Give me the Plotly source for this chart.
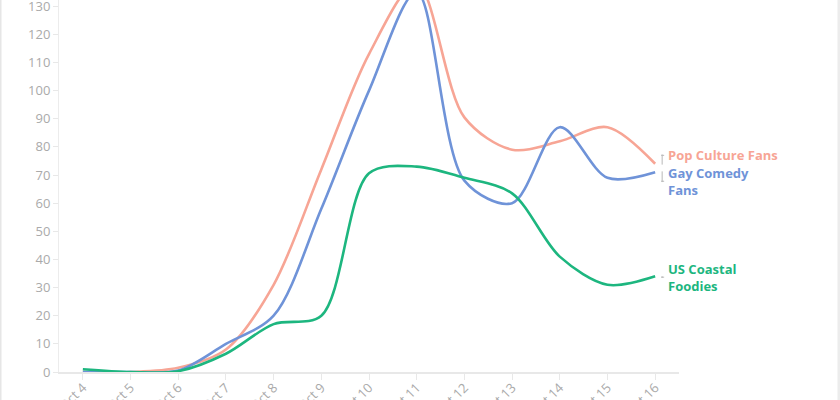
import plotly.graph_objects as go

dates = ["Oct 4", "Oct 5", "Oct 6", "Oct 7", "Oct 8", "Oct 9", "Oct 10",
         "Oct 11", "Oct 12", "Oct 13", "Oct 14", "Oct 15", "Oct 16"]
pop_culture = [0, 0, 1.5, 8, 31, 72, 113, 138, 90.5, 79, 82, 87, 74]
gay_comedy = [0, 0, 0.5, 10, 20, 58, 100, 135, 68, 60, 87, 69, 71]
us_coastal = [1, 0, 0.3, 6.5, 17, 20, 70.6, 73, 69, 63.5, 41, 31, 34]

series_labels = ["Pop Culture Fans", "Gay Comedy<br>Fans", "US Coastal<br>Foodies"]
series_data = [pop_culture, gay_comedy, us_coastal]
colors = ["#F7A595", "#6F93D8", "#1DB67F"]
label_y = [77, 67.8, 33.7]

FONT = "'Open Sans', Lato, sans-serif"

fig = go.Figure()
xi = list(range(len(dates)))
for name, vals, c in zip(series_labels, series_data, colors):
    fig.add_trace(go.Scatter(
        x=xi, y=vals, mode="lines", name=name.replace("<br>", " "),
        line=dict(color=c, width=2.6, shape="spline", smoothing=0.9),
        hoverinfo="skip", showlegend=False,
    ))

last = len(dates) - 1
for name, vals, c, ly in zip(series_labels, series_data, colors, label_y):
    fig.add_annotation(
        x=last, y=ly, xref="x", yref="y", text="<b>" + name + "</b>",
        showarrow=False, xanchor="left", yanchor="middle", align="left",
        xshift=12, borderpad=0,
        font=dict(family=FONT, size=13, color=c),
    )
    # small gray connector from line end to label centre
    y0, y1 = vals[-1], ly
    if abs(y0 - y1) < 1:
        y0, y1 = ly, ly
    fig.add_shape(type="line", xref="x", yref="y", xsizemode="pixel", xanchor=last,
                  x0=7, x1=7, y0=min(y0, y1) - 0.3, y1=max(y0, y1) + 0.3,
                  line=dict(color="#b8b8b8", width=1))
    fig.add_shape(type="line", xref="x", yref="y", xsizemode="pixel", xanchor=last,
                  x0=6, x1=9, y0=ly, y1=ly, line=dict(color="#b8b8b8", width=1))

# card border edges
fig.add_shape(type="line", xref="paper", yref="paper", x0=-58.5 / 620, x1=-58.5 / 620,
              y0=-28 / 372, y1=1, line=dict(color="#e6e6e6", width=2), layer="below")
fig.add_shape(type="line", xref="paper", yref="paper", x0=(839 - 59) / 620,
              x1=(839 - 59) / 620, y0=-28 / 372, y1=1,
              line=dict(color="#ececec", width=3), layer="below")

fig.update_layout(
    width=840, height=400,
    margin=dict(l=59, r=161, t=0, b=28, autoexpand=False),
    paper_bgcolor="white", plot_bgcolor="white",
    font=dict(family=FONT, color="#aaaaaa", size=12),
    xaxis=dict(
        range=[-0.5, 12.5], tickmode="array", tickvals=xi, ticktext=dates,
        tickangle=-45, showgrid=False, zeroline=False, automargin=False,
        ticklabeloverflow="allow", ticklabelstandoff=-5,
        showline=True, linecolor="#e8e8e8", linewidth=2,
        ticks="outside", ticklen=6, tickcolor="#e8e8e8", tickwidth=1,
        tickfont=dict(size=13, color="#aaaaaa"),
    ),
    yaxis=dict(
        range=[0, 132.2], tickmode="linear", tick0=0, dtick=10,
        showgrid=False, zeroline=False, automargin=False,
        ticklabeloverflow="allow",
        showline=True, linecolor="#ececec", linewidth=1,
        ticks="outside", ticklen=5, tickcolor="#e8e8e8",
        tickfont=dict(size=13, color="#aaaaaa"),
    ),
)

fig.write_html("out.html", config={"displayModeBar": False},
               post_script="document.body.style.margin='0';")
